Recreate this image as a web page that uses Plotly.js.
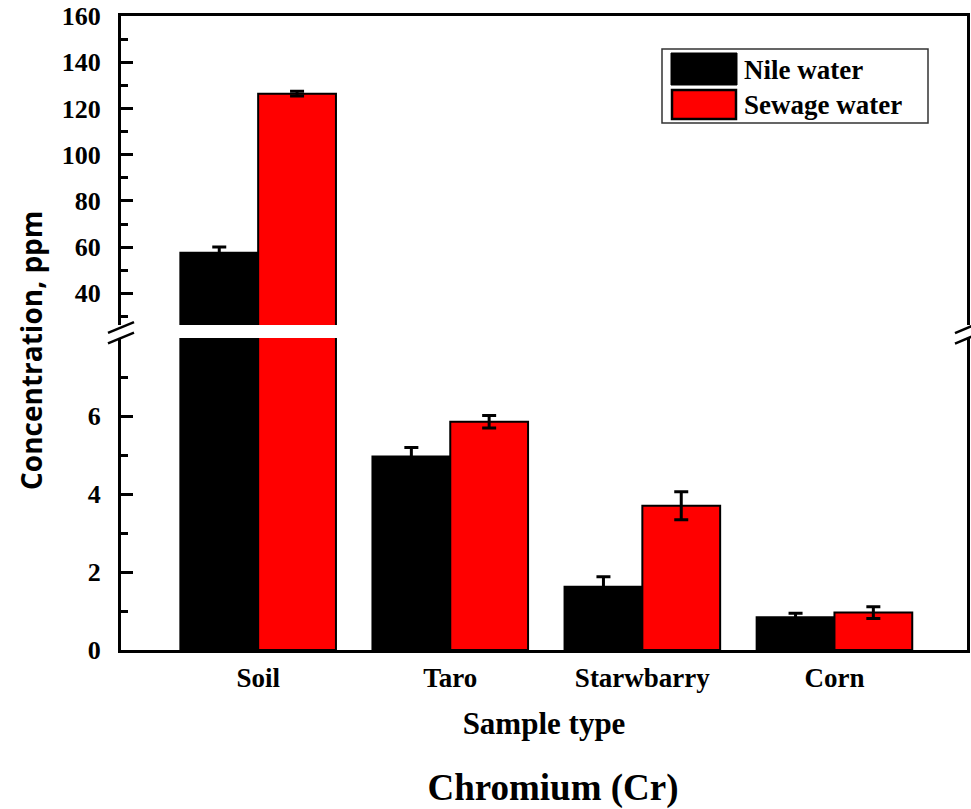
<!DOCTYPE html>
<html>
<head>
<meta charset="utf-8">
<script src="https://cdn.plot.ly/plotly-3.0.1.min.js"></script>
<style>html,body{margin:0;padding:0;background:#fff;}#chart{width:971px;height:809px;}</style>
</head>
<body>
<div id="chart"></div>
<script>
// ---- data ----
const categories = ['Soil', 'Taro', 'Starwbarry', 'Corn'];
const nileValues = [57.6, 4.96, 1.62, 0.84];
const nileErrors = [2.5, 0.23, 0.26, 0.10];
const sewageValues = [126.4, 5.85, 3.70, 0.96];
const sewageErrors = [1.0, 0.16, 0.36, 0.15];
const seriesNames = ['Nile water', 'Sewage water'];
const lowerTickVals = [0, 2, 4, 6];
const lowerMinorVals = [1, 3, 5, 7];
const upperTickVals = [40, 60, 80, 100, 120, 140, 160];
const upperMinorVals = [30, 50, 70, 90, 110, 130, 150];

// ---- layout geometry (pixels) ----
const W = 971, H = 809;
const L = 121, R = 967, T = 16, B = 650;
const px = x => (x - L) / (R - L);
const py = y => (B - y) / (B - T);

const serif = '"Liberation Serif", "Times New Roman", serif';
const yTickFont = {family: serif, size: 26, color: '#000', weight: 700};
const xTickFont = {family: serif, size: 27, color: '#000', weight: 700};

function barTrace(name, vals, errs, color, xa, ya) {
  return {
    type: 'bar', name: name, x: categories, y: vals,
    xaxis: xa, yaxis: ya, showlegend: false,
    marker: {color: color, line: {color: '#000', width: 2}},
    error_y: {type: 'data', array: errs, visible: true, color: '#000', thickness: 3, width: 7}
  };
}

const data = [
  barTrace(seriesNames[0], nileValues, nileErrors, '#000000', 'x', 'y'),
  barTrace(seriesNames[1], sewageValues, sewageErrors, '#ff0000', 'x', 'y'),
  barTrace(seriesNames[0], nileValues, nileErrors, '#000000', 'x2', 'y2'),
  barTrace(seriesNames[1], sewageValues, sewageErrors, '#ff0000', 'x2', 'y2')
];

const axisCommon = {
  showline: true, linewidth: 3, linecolor: '#000', showgrid: false, zeroline: false
};

function slash(xc, yc, hw) {
  return {type: 'line', xref: 'paper', yref: 'paper',
    x0: px(xc - hw), y0: py(yc + hw * 0.42), x1: px(xc + hw), y1: py(yc - hw * 0.42),
    line: {color: '#000', width: 2.5}};
}

const shapes = [
  slash(L, 327.5, 13), slash(L, 338, 13),
  slash(R, 328, 12), slash(R, 338.5, 12),
  // legend frame and swatches
  {type: 'rect', xref: 'paper', yref: 'paper', x0: px(662), x1: px(928), y0: py(123), y1: py(49),
   line: {color: '#333', width: 1.5}, fillcolor: 'rgba(0,0,0,0)'},
  {type: 'rect', xref: 'paper', yref: 'paper', x0: px(671), x1: px(737), y0: py(85), y1: py(53),
   line: {color: '#000', width: 1}, fillcolor: '#000000'},
  {type: 'rect', xref: 'paper', yref: 'paper', x0: px(672), x1: px(736), y0: py(119), y1: py(90),
   line: {color: '#000', width: 2.5}, fillcolor: '#ff0000'}
];

const annotations = [
  {text: 'Concentration, ppm', xref: 'paper', yref: 'paper', x: px(31), y: py(351),
   textangle: -90, showarrow: false, xanchor: 'center', yanchor: 'middle',
   font: {family: '"Open Sans", Arial, sans-serif', size: 28, color: '#000', weight: 700}},
  {text: seriesNames[0], xref: 'paper', yref: 'paper', x: px(742), y: py(70),
   showarrow: false, xanchor: 'left', yanchor: 'middle',
   font: {family: serif, size: 27, color: '#000', weight: 700}},
  {text: seriesNames[1], xref: 'paper', yref: 'paper', x: px(742), y: py(105),
   showarrow: false, xanchor: 'left', yanchor: 'middle',
   font: {family: serif, size: 27, color: '#000', weight: 700}}
];

const layout = {
  width: W, height: H,
  margin: {l: L, r: W - R, t: T, b: H - B},
  paper_bgcolor: '#fff', plot_bgcolor: '#fff',
  barmode: 'group', bargap: 0.19, bargroupgap: 0,
  showlegend: false,
  title: {text: 'Chromium (Cr)', xref: 'container', yref: 'container',
    x: 553 / W, xanchor: 'center', y: 1 - 787 / H, yanchor: 'middle',
    font: {family: serif, size: 37, color: '#000', weight: 700}},
  xaxis: Object.assign({}, axisCommon, {
    type: 'category', range: [-0.714, 3.69], anchor: 'y', ticks: '',
    tickfont: xTickFont, ticklabelstandoff: 2,
    title: {text: 'Sample type', standoff: 20, font: {family: serif, size: 31, color: '#000', weight: 700}}
  }),
  xaxis2: Object.assign({}, axisCommon, {
    type: 'category', matches: 'x', anchor: 'y2', side: 'top', ticks: '', showticklabels: false
  }),
  yaxis: Object.assign({}, axisCommon, {
    domain: [0, py(338)], range: [0, 8], anchor: 'x', mirror: true,
    tickmode: 'array', tickvals: lowerTickVals, ticktext: lowerTickVals.map(String),
    ticks: 'inside', ticklen: 12, tickwidth: 3, tickcolor: '#000',
    tickfont: yTickFont, ticklabelstandoff: 12,
    minor: {tickmode: 'array', tickvals: lowerMinorVals, ticks: 'inside', ticklen: 7, tickwidth: 3, tickcolor: '#000', showgrid: false}
  }),
  yaxis2: Object.assign({}, axisCommon, {
    domain: [py(325), 1], range: [26.3, 160], anchor: 'x2', mirror: true,
    tickmode: 'array', tickvals: upperTickVals, ticktext: upperTickVals.map(String),
    ticks: 'inside', ticklen: 12, tickwidth: 3, tickcolor: '#000',
    tickfont: yTickFont, ticklabelstandoff: 12,
    minor: {tickmode: 'array', tickvals: upperMinorVals, ticks: 'inside', ticklen: 7, tickwidth: 3, tickcolor: '#000', showgrid: false}
  }),
  shapes: shapes,
  annotations: annotations
};

Plotly.newPlot('chart', data, layout, {staticPlot: true, displayModeBar: false});
</script>
</body>
</html>
